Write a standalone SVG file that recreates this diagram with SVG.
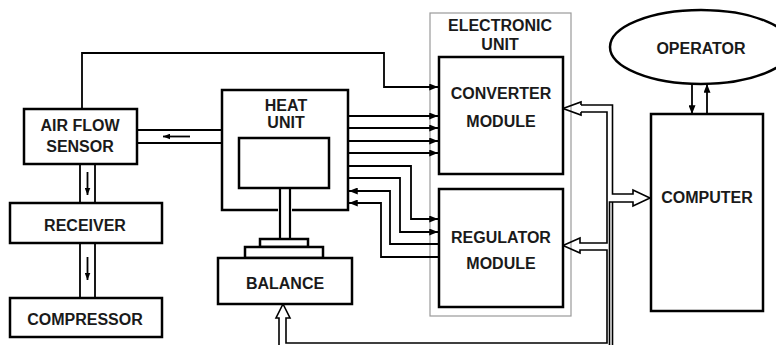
<svg xmlns="http://www.w3.org/2000/svg" width="776" height="345" viewBox="0 0 776 345">
<style>
.box{fill:#fff;stroke:#000;stroke-width:2.5}
.thin{fill:none;stroke:#000;stroke-width:1.8}
.bus{fill:none;stroke:#000;stroke-width:1.6;stroke-linejoin:miter}
.lbl{font-family:"Liberation Sans",Arial,sans-serif;font-weight:bold;font-size:16px;fill:#1a1a1a;text-anchor:middle}
</style>
<defs>
<marker id="ah" viewBox="0 0 10 8" refX="10" refY="4" markerWidth="10" markerHeight="7" markerUnits="userSpaceOnUse" orient="auto">
<path d="M0,0 L10,4 L0,8 z" fill="#000"/>
</marker>
<marker id="ahs" viewBox="0 0 10 8" refX="10" refY="4" markerWidth="7" markerHeight="6" markerUnits="userSpaceOnUse" orient="auto">
<path d="M0,0 L10,4 L0,8 z" fill="#000"/>
</marker>
</defs>
<rect width="776" height="345" fill="#fff"/>

<g id="electronic-unit">
<rect x="430" y="13" width="141" height="303" fill="none" stroke="#9a9a9a" stroke-width="1.2"/>
<text class="lbl" x="500" y="31">ELECTRONIC</text>
<text class="lbl" x="500" y="50">UNIT</text>
</g>

<g id="connectors">
<!-- AFS to converter -->
<path class="thin" d="M82,109 V53 H384 V87 H438" marker-end="url(#ah)"/>
<!-- heat unit to converter -->
<path class="thin" d="M348,116 H438" marker-end="url(#ah)"/>
<path class="thin" d="M348,128 H438" marker-end="url(#ah)"/>
<path class="thin" d="M348,141 H438" marker-end="url(#ah)"/>
<path class="thin" d="M348,153 H438" marker-end="url(#ah)"/>
<!-- heat unit to regulator -->
<path class="thin" d="M348,166 H411 V219 H438" marker-end="url(#ah)"/>
<path class="thin" d="M348,178 H400 V232 H438" marker-end="url(#ah)"/>
<!-- regulator to heat unit -->
<path class="thin" d="M439,244 H390 V191 H349" marker-end="url(#ah)"/>
<path class="thin" d="M439,257 H381 V203 H349" marker-end="url(#ah)"/>
<!-- heat unit -> air flow sensor (pipe) -->
<path class="thin" d="M137,130 H222 M137,143 H222"/>
<path class="thin" d="M190,136.5 H163" marker-end="url(#ahs)"/>
<!-- AFS -> receiver pipe -->
<path class="thin" d="M80,164 V203 M95,164 V203"/>
<path class="thin" d="M87.5,172 V195" marker-end="url(#ahs)"/>
<!-- receiver -> compressor pipe -->
<path class="thin" d="M80,243 V298 M95,243 V298"/>
<path class="thin" d="M87.5,257 V280" marker-end="url(#ahs)"/>
<!-- operator <-> computer -->
<path class="thin" d="M692,84 V114" marker-end="url(#ah)"/>
<path class="thin" d="M707,114 V84" marker-end="url(#ah)"/>
<!-- buses (hollow arrows) -->
<path class="bus" d="M581,105 V102 L563,108.5 L581,115 V112"/>
<path class="bus" d="M581,105 H612.5 V194 H633 V190 L650,198 L633,206 V202 H609.5 V346"/>
<path class="bus" d="M612.5,202 V346"/>
<path class="bus" d="M581,112 H607 V243 H580 V238 L563,245.5 L580,253 V250 H607 V343 H286 V318 H290 L283,304 L276,318 H279 V346"/>
</g>

<g id="air-flow-sensor">
<rect class="box" x="24" y="109" width="113" height="55"/>
<text class="lbl" x="80" y="131">AIR FLOW</text>
<text class="lbl" x="80" y="152">SENSOR</text>
</g>

<g id="receiver">
<rect class="box" x="10" y="203" width="152" height="40"/>
<text class="lbl" x="85" y="231">RECEIVER</text>
</g>

<g id="compressor">
<rect class="box" x="10" y="298" width="152" height="39"/>
<text class="lbl" x="85" y="325">COMPRESSOR</text>
</g>

<g id="heat-unit">
<path d="M278,210 H222 V90 H348 V210 H292" fill="#fff" stroke="#000" stroke-width="2.5"/>
<rect class="box" x="239" y="138" width="90" height="50"/>
<text class="lbl" x="286" y="111">HEAT</text>
<text class="lbl" x="286" y="128">UNIT</text>
<path d="M280,188 V239 M290,188 V239" fill="none" stroke="#000" stroke-width="2.2"/>
</g>

<g id="balance">
<rect class="box" x="260" y="239" width="48" height="8"/>
<rect class="box" x="245" y="247" width="78" height="11"/>
<rect class="box" x="218" y="258" width="134" height="46"/>
<text class="lbl" x="285" y="289">BALANCE</text>
</g>

<g id="converter-module">
<rect class="box" x="439" y="57" width="124" height="117"/>
<text class="lbl" x="501" y="99">CONVERTER</text>
<text class="lbl" x="501" y="127">MODULE</text>
</g>

<g id="regulator-module">
<rect class="box" x="439" y="189" width="124" height="118"/>
<text class="lbl" x="501" y="243">REGULATOR</text>
<text class="lbl" x="501" y="269">MODULE</text>
</g>

<g id="computer">
<rect class="box" x="651" y="114" width="112" height="197"/>
<text class="lbl" x="707" y="203">COMPUTER</text>
</g>

<g id="operator">
<ellipse cx="701" cy="47" rx="91" ry="37" fill="#fff" stroke="#000" stroke-width="2.5"/>
<text class="lbl" x="701" y="54">OPERATOR</text>
</g>
</svg>
